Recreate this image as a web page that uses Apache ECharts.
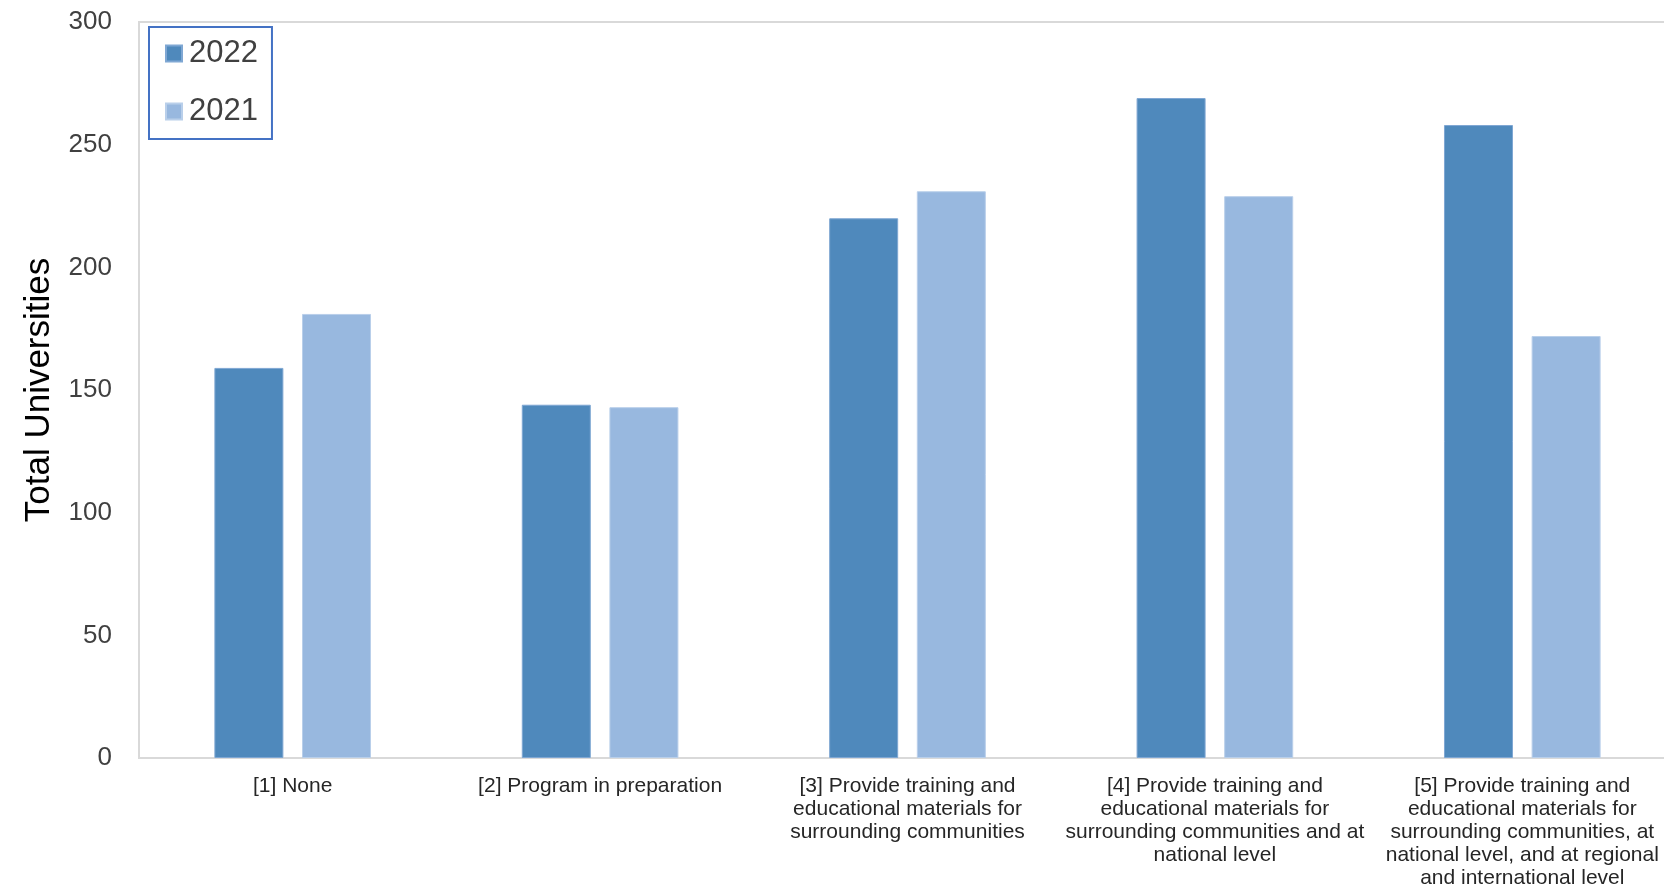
<!DOCTYPE html>
<html>
<head>
<meta charset="utf-8">
<script src="https://cdn.jsdelivr.net/npm/echarts@6/dist/echarts.min.js"></script>
<style>
html,body{margin:0;padding:0;background:#fff;overflow:hidden;}
#chart{width:1700px;height:891px;}
</style>
</head>
<body>
<div id="chart"></div>
<script>
const categories = [
  "[1] None",
  "[2] Program in preparation",
  "[3] Provide training and\neducational materials for\nsurrounding communities",
  "[4] Provide training and\neducational materials for\nsurrounding communities and at\nnational level",
  "[5] Provide training and\neducational materials for\nsurrounding communities, at\nnational level, and at regional\nand international level"
];
const seriesNames = ["2022", "2021"];
const values2022 = [159, 144, 220, 269, 258];
const values2021 = [181, 143, 231, 229, 172];
const yTicks = { min: 0, max: 300, interval: 50 };

const FONT = "'Liberation Sans', Arial, sans-serif";
const chart = echarts.init(document.getElementById('chart'), null, { renderer: 'canvas' });
chart.setOption({
  animation: false,
  backgroundColor: '#ffffff',
  grid: {
    left: 139, top: 22, width: 1537, height: 736,
    show: true, borderColor: '#d9d9d9', borderWidth: 2, backgroundColor: 'transparent'
  },
  legend: {
    data: seriesNames,
    orient: 'vertical',
    left: 149, top: 27,
    padding: [11, 14, 12, 16],
    borderColor: '#4472c4', borderWidth: 2,
    itemWidth: 16, itemHeight: 16, itemGap: 27,
    icon: 'rect',
    textStyle: { fontFamily: FONT, fontSize: 31, color: '#404040', padding: [0, 0, 0, 2] }
  },
  xAxis: {
    type: 'category',
    data: categories,
    axisLine: { show: true, lineStyle: { color: '#d9d9d9', width: 2 } },
    axisTick: { show: false },
    axisLabel: { interval: 0, fontFamily: FONT, fontSize: 21, lineHeight: 23, color: '#262626', margin: 17, align: 'center' }
  },
  yAxis: {
    type: 'value',
    min: yTicks.min, max: yTicks.max, interval: yTicks.interval,
    name: 'Total Universities',
    nameLocation: 'middle',
    nameGap: 82,
    nameTextStyle: { fontFamily: FONT, fontSize: 35, color: '#000000' },
    axisLine: { show: true, lineStyle: { color: '#d9d9d9', width: 2 } },
    axisTick: { show: false },
    splitLine: { show: false },
    axisLabel: { fontFamily: FONT, fontSize: 26, color: '#404040', margin: 27 }
  },
  series: [
    {
      name: seriesNames[0], type: 'bar', data: values2022,
      barWidth: 69, barGap: '27%',
      itemStyle: { color: '#4f89bc', borderColor: '#7fa7d3', borderWidth: 1 }
    },
    {
      name: seriesNames[1], type: 'bar', data: values2021,
      barWidth: 69, barGap: '27%',
      itemStyle: { color: '#98b8df', borderColor: '#b9cfea', borderWidth: 1 }
    }
  ]
});
</script>
</body>
</html>
